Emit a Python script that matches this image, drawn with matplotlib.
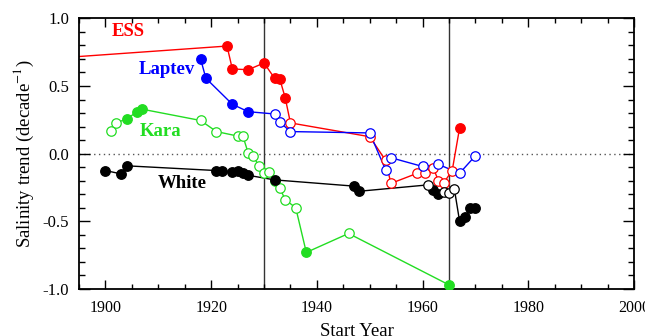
import matplotlib
matplotlib.use("Agg")
import matplotlib.pyplot as plt
from matplotlib.ticker import MultipleLocator

plt.rcParams['font.family'] = ['Liberation Serif', 'DejaVu Serif']
plt.rcParams['axes.unicode_minus'] = False
plt.rcParams['mathtext.fontset'] = 'stix'

# ESS (East Siberian Sea) - first point lies left of the plotted range
ess_year = [1885, 1923, 1924, 1927, 1930, 1932, 1933, 1934, 1935, 1950, 1953, 1954,
            1959, 1960.5, 1962, 1963, 1964, 1965.6, 1967]
ess_val = [0.69, 0.795, 0.626, 0.62, 0.67, 0.557, 0.549, 0.414, 0.227, 0.125, -0.05, -0.22,
           -0.145, -0.14, -0.105, -0.20, -0.215, -0.125, 0.19]
ess_fill = [1, 1, 1, 1, 1, 1, 1, 1, 0, 0, 0, 0, 0, 0, 0, 0, 0, 0, 1]

laptev_year = [1918, 1919, 1924, 1927, 1932, 1933, 1935, 1950, 1953, 1954, 1960, 1963, 1967, 1970]
laptev_val = [0.70, 0.557, 0.365, 0.31, 0.293, 0.232, 0.163, 0.153, -0.12, -0.03, -0.095,
              -0.08, -0.145, -0.015]
laptev_fill = [1, 1, 1, 1, 0, 0, 0, 0, 0, 0, 0, 0, 0, 0]

kara_year = [1901, 1902, 1904, 1906, 1907, 1918, 1921, 1925, 1926, 1927, 1928, 1929, 1930,
             1931, 1932, 1933, 1934, 1936, 1938, 1946, 1965]
kara_val = [0.165, 0.227, 0.256, 0.31, 0.328, 0.245, 0.163, 0.13, 0.13, 0.005, -0.02, -0.09,
            -0.145, -0.135, -0.20, -0.255, -0.34, -0.40, -0.73, -0.59, -0.97]
kara_fill = [0, 0, 1, 1, 1, 0, 0, 0, 0, 0, 0, 0, 0, 0, 0, 0, 0, 0, 1, 0, 1]

white_year = [1900, 1903, 1904, 1921, 1922, 1924, 1925, 1926, 1927, 1932, 1947, 1948,
              1961, 1962, 1963, 1964, 1965, 1966, 1967, 1968, 1969, 1970]
white_val = [-0.125, -0.15, -0.09, -0.125, -0.125, -0.138, -0.128, -0.143, -0.16, -0.194,
             -0.24, -0.278, -0.231, -0.27, -0.30, -0.285, -0.29, -0.26, -0.50, -0.47,
             -0.405, -0.40]
white_fill = [1, 1, 1, 1, 1, 1, 1, 1, 1, 1, 1, 1, 0, 1, 1, 0, 0, 0, 1, 1, 1, 1]

series = [
    ("ESS", ess_year, ess_val, ess_fill, "#ff0000", (1904.3, 0.90)),
    ("Laptev", laptev_year, laptev_val, laptev_fill, "#0000ff", (1911.7, 0.62)),
    ("Kara", kara_year, kara_val, kara_fill, "#22dd22", (1910.4, 0.16)),
    ("White", white_year, white_val, white_fill, "#000000", (1914.5, -0.22)),
]

fig = plt.figure(figsize=(6.45, 3.36), dpi=100)
ax = fig.add_axes([0.1225, 0.140, 0.8605, 0.8055])

ax.axhline(0, color="#555555", lw=1, ls=(0, (1, 2.5)), zorder=1)
for yr in [1930, 1965]:
    ax.axvline(yr, color="#333333", lw=1, zorder=1)

for name, yrs, vals, fill, col, pos in series:
    ax.plot(yrs, vals, color=col, lw=1, zorder=2)
    fx = [y for y, f in zip(yrs, fill) if f]
    fy = [v for v, f in zip(vals, fill) if f]
    ox = [y for y, f in zip(yrs, fill) if not f]
    oy = [v for v, f in zip(vals, fill) if not f]
    ax.plot(fx, fy, 'o', color=col, ms=6.8, mec=col, zorder=3)
    ax.plot(ox, oy, 'o', mfc='white', mec=col, mew=0.9, ms=6.8, zorder=3)
    ax.text(pos[0], pos[1], name, color=col, fontsize=13.5, fontweight='bold',
            ha='center', va='center')

ax.set_xlim(1895, 2000)
ax.set_ylim(-1.0, 1.0)
ax.xaxis.set_major_locator(MultipleLocator(20))
ax.xaxis.set_minor_locator(MultipleLocator(5))
ax.yaxis.set_major_locator(MultipleLocator(0.5))
ax.yaxis.set_minor_locator(MultipleLocator(0.1))
ax.yaxis.set_major_formatter(matplotlib.ticker.FormatStrFormatter('%.1f'))
ax.tick_params(which='both', direction='in', top=True, right=True, width=1)
ax.tick_params(axis='y', which='major', length=8, labelsize=12, pad=7)
ax.tick_params(axis='y', which='minor', length=4.5)
ax.tick_params(axis='x', which='major', length=6.5, pad=8, labelsize=11.5)
ax.tick_params(axis='x', which='minor', length=3.5)
for s in ax.spines.values():
    s.set_linewidth(1.3)

ax.set_ylabel(r"Salinity trend (decade$^{-1}$)", fontsize=13.5, labelpad=5)
ax.set_xlabel("Start Year", fontsize=13.5, labelpad=5)

fig.savefig("out.png", dpi=100)
